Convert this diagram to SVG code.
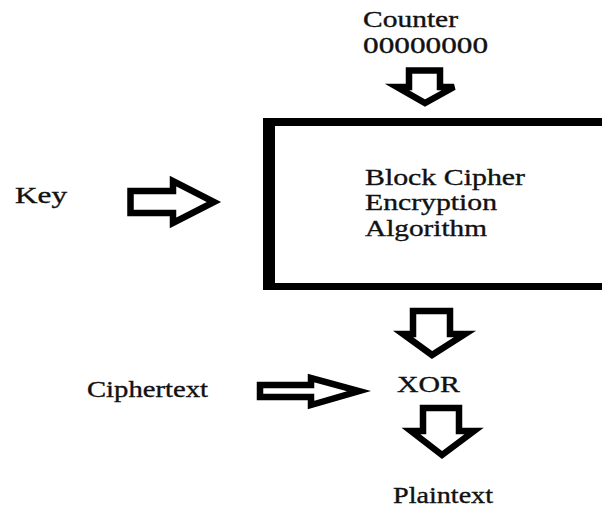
<svg xmlns="http://www.w3.org/2000/svg" width="602" height="508" viewBox="0 0 602 508">
<style>
text{font-family:"Liberation Serif","Times New Roman",serif;font-size:23px;fill:#111;stroke:#111;stroke-width:0.35}
.arr{fill:#fff;stroke:#000;stroke-width:6.5;stroke-linejoin:miter;stroke-miterlimit:4}
</style>
<rect width="602" height="508" fill="#fff"/>
<g id="counter">
<text x="363" y="27" textLength="95" lengthAdjust="spacingAndGlyphs">Counter</text>
<text x="363" y="53" textLength="125" lengthAdjust="spacingAndGlyphs">00000000</text>
</g>
<g id="key">
<text x="15" y="203" textLength="52" lengthAdjust="spacingAndGlyphs">Key</text>
</g>
<g id="block-cipher">
<path d="M263 118H612V290H263Z M275 126V283H612V126Z" fill="#000" fill-rule="evenodd"/>
<text x="365" y="185" textLength="160" lengthAdjust="spacingAndGlyphs">Block Cipher</text>
<text x="365" y="210" textLength="132" lengthAdjust="spacingAndGlyphs">Encryption</text>
<text x="365" y="236" textLength="122" lengthAdjust="spacingAndGlyphs">Algorithm</text>
</g>
<g id="ciphertext">
<text x="87" y="397" textLength="121" lengthAdjust="spacingAndGlyphs">Ciphertext</text>
</g>
<g id="xor">
<text x="397" y="392" textLength="63" lengthAdjust="spacingAndGlyphs">XOR</text>
</g>
<g id="plaintext">
<text x="393" y="503" textLength="100" lengthAdjust="spacingAndGlyphs">Plaintext</text>
</g>
<g id="connectors">
<polygon class="arr" points="409,70.5 440,70.5 440,87 454,87 425,103 397,87 409,87"/>
<polygon class="arr" points="130.5,191 173,191 173,181 214,202 173,223 173,213 130.5,213"/>
<polygon class="arr" points="413,311 450,311 450,334 465,334 432,355 403,334 413,334"/>
<polygon class="arr" points="260,385 311,385 311,378 359,391 311,405 311,397 260,397"/>
<polygon class="arr" points="423,408 459,408 459,431 474,431 442,455 411,431 423,431"/>
</g>
</svg>
